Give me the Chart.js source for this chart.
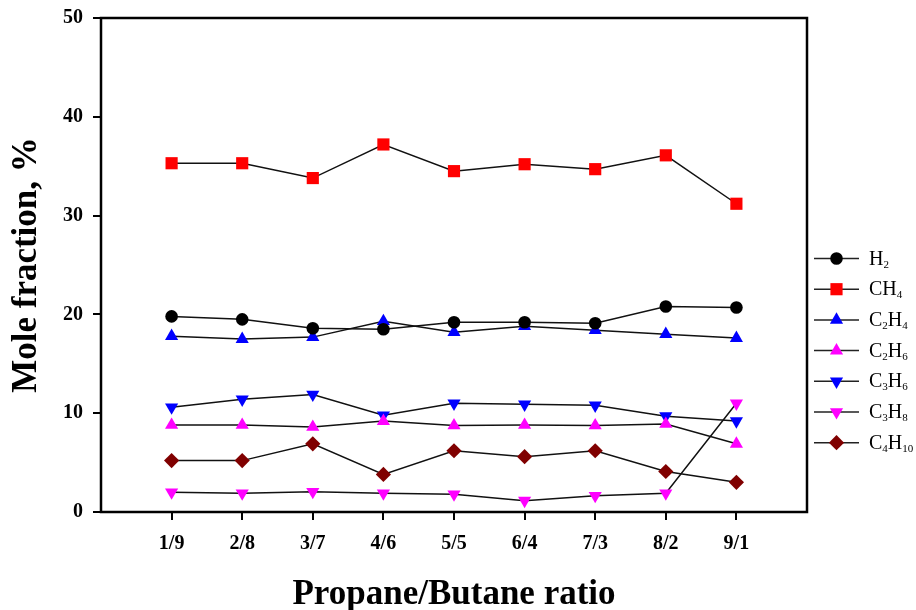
<!DOCTYPE html>
<html>
<head>
<meta charset="utf-8">
<script src="https://cdn.jsdelivr.net/npm/chart.js@4/dist/chart.umd.min.js"></script>
<style>
  html, body { margin: 0; padding: 0; background: #fff; }
  #wrap { width: 916px; height: 610px; position: relative; }
</style>
</head>
<body>
<div id="wrap"><canvas id="c" width="916" height="610"></canvas></div>
<script>
const categories = ['1/9', '2/8', '3/7', '4/6', '5/5', '6/4', '7/3', '8/2', '9/1'];
const seriesNames = ['H2', 'CH4', 'C2H4', 'C2H6', 'C3H6', 'C3H8', 'C4H10'];
const H2    = [19.8, 19.5, 18.6, 18.5, 19.2, 19.2, 19.1, 20.8, 20.7];
const CH4   = [35.3, 35.3, 33.8, 37.2, 34.5, 35.2, 34.7, 36.1, 31.2];
const C2H4  = [17.8, 17.5, 17.7, 19.3, 18.2, 18.8, 18.4, 18.0, 17.6];
const C2H6  = [8.8, 8.8, 8.6, 9.2, 8.75, 8.8, 8.75, 8.9, 6.9];
const C3H6  = [10.6, 11.4, 11.9, 9.8, 11.0, 10.9, 10.8, 9.7, 9.2];
const C3H8  = [2.0, 1.9, 2.05, 1.9, 1.8, 1.15, 1.65, 1.9, 11.0];
const C4H10 = [5.2, 5.2, 6.9, 3.8, 6.2, 5.6, 6.2, 4.1, 3.0];
const yTicks = [0, 10, 20, 30, 40, 50];

const seriesValues = [H2, CH4, C2H4, C2H6, C3H6, C3H8, C4H10];
const styles = [
  { color: '#000000', style: 'circle',   radius: 6.3, rotation: 0 },
  { color: '#ff0000', style: 'rect',     radius: 8.6, rotation: 0 },
  { color: '#0000ff', style: 'triangle', radius: 7.6, rotation: 0 },
  { color: '#ff00ff', style: 'triangle', radius: 7.6, rotation: 0 },
  { color: '#0000ff', style: 'triangle', radius: 7.6, rotation: 180 },
  { color: '#ff00ff', style: 'triangle', radius: 7.6, rotation: 180 },
  { color: '#800000', style: 'rectRot',  radius: 7.6, rotation: 0 }
];

const FONT = "'Liberation Serif', 'Times New Roman', Times, serif";

const datasets = seriesNames.map((name, k) => ({
  label: name,
  data: seriesValues[k].map((v, i) => ({ x: i + 1, y: v })),
  borderColor: '#111111',
  borderWidth: 1.5,
  tension: 0,
  fill: false,
  pointStyle: styles[k].style,
  pointRadius: styles[k].radius,
  pointHoverRadius: styles[k].radius,
  pointRotation: styles[k].rotation,
  pointBackgroundColor: styles[k].color,
  pointBorderColor: styles[k].color,
  pointBorderWidth: 0
}));

const framePlugin = {
  id: 'frame',
  afterDatasetsDraw(chart) {
    const { ctx, chartArea: a } = chart;
    ctx.save();
    ctx.strokeStyle = '#000';
    ctx.lineWidth = 2.5;
    ctx.strokeRect(a.left, a.top, a.right - a.left, a.bottom - a.top);
    ctx.restore();
  }
};

function drawMarker(ctx, ds, x, y) {
  ctx.fillStyle = ds.pointBackgroundColor;
  ctx.strokeStyle = ds.pointBorderColor;
  if (Chart.helpers && Chart.helpers.drawPoint) {
    Chart.helpers.drawPoint(ctx, {
      pointStyle: ds.pointStyle,
      radius: ds.pointRadius,
      rotation: ds.pointRotation || 0,
      borderWidth: 0
    }, x, y);
  } else {
    ctx.beginPath();
    ctx.arc(x, y, ds.pointRadius, 0, Math.PI * 2);
    ctx.fill();
  }
}

const legendPlugin = {
  id: 'subLegend',
  afterDraw(chart) {
    const ctx = chart.ctx;
    const a = chart.chartArea;
    const x0 = a.right + 7, x1 = x0 + 45, mx = (x0 + x1) / 2, tx = x1 + 10;
    const y0 = 258.5, dy = 30.7;
    chart.data.datasets.forEach((ds, i) => {
      const y = y0 + i * dy;
      ctx.save();
      ctx.strokeStyle = '#222';
      ctx.lineWidth = 1.5;
      ctx.beginPath();
      ctx.moveTo(x0, y);
      ctx.lineTo(x1, y);
      ctx.stroke();
      drawMarker(ctx, ds, mx, y);
      ctx.fillStyle = '#000';
      ctx.textBaseline = 'alphabetic';
      ctx.textAlign = 'left';
      const base = y + 6;
      let x = tx;
      const parts = ds.label.match(/(\d+|\D+)/g);
      parts.forEach(p => {
        if (/^\d+$/.test(p)) {
          ctx.font = '11px ' + FONT;
          ctx.fillText(p, x, base + 3);
        } else {
          ctx.font = '20px ' + FONT;
          ctx.fillText(p, x, base);
        }
        x += ctx.measureText(p).width;
      });
      ctx.restore();
    });
  }
};

new Chart(document.getElementById('c'), {
  type: 'line',
  data: { datasets },
  options: {
    responsive: false,
    animation: false,
    events: [],
    layout: { padding: { top: 18, right: 109, left: 0, bottom: 0 } },
    plugins: { legend: { display: false }, tooltip: { enabled: false } },
    scales: {
      x: {
        type: 'linear',
        position: 'bottom',
        min: 0,
        max: categories.length + 1,
        afterBuildTicks: (scale) => {
          scale.ticks = categories.map((c, i) => ({ value: i + 1 }));
        },
        afterFit: (scale) => {
          scale.height = 98;
          scale.paddingLeft = 0;
          scale.paddingRight = 0;
        },
        ticks: {
          autoSkip: false,
          maxRotation: 0,
          color: '#000',
          padding: 12,
          font: { family: FONT, size: 20, weight: 'bold' },
          callback: (v) => categories[Math.round(v) - 1] || ''
        },
        grid: { drawOnChartArea: false, drawTicks: true, tickLength: 8, color: '#000', lineWidth: 2 },
        border: { display: false },
        title: {
          display: true,
          text: 'Propane/Butane ratio',
          color: '#000',
          font: { family: FONT, size: 35, weight: 'bold', lineHeight: 0.9 },
          padding: { top: 0, bottom: -1 }
        }
      },
      y: {
        type: 'linear',
        min: 0,
        max: 50,
        afterBuildTicks: (scale) => {
          scale.ticks = yTicks.map(v => ({ value: v }));
        },
        afterFit: (scale) => {
          scale.width = 101;
          scale.paddingTop = 0;
          scale.paddingBottom = 0;
        },
        ticks: {
          color: '#000',
          padding: 10,
          font: { family: FONT, size: 20, weight: 'bold' }
        },
        grid: { drawOnChartArea: false, drawTicks: true, tickLength: 8, color: '#000', lineWidth: 2 },
        border: { display: false },
        title: {
          display: true,
          text: 'Mole fraction, %',
          color: '#000',
          font: { family: FONT, size: 35, weight: 'bold', lineHeight: 1 },
          padding: { top: 9, bottom: 0 }
        }
      }
    }
  },
  plugins: [framePlugin, legendPlugin]
});
</script>
</body>
</html>
